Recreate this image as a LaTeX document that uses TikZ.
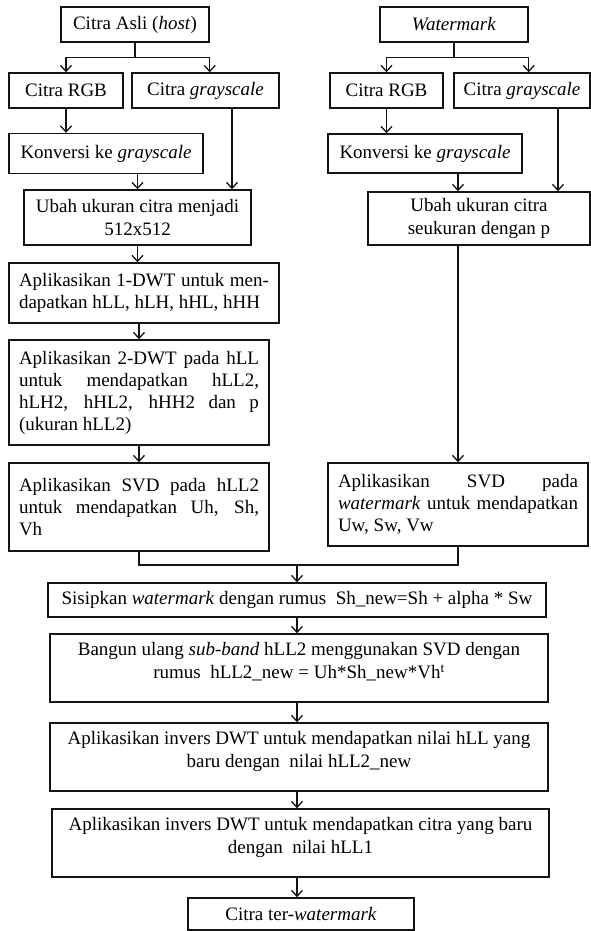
\documentclass[tikz,border=0pt]{standalone}
\usepackage{fontspec}
\setmainfont{Liberation Serif}
\usepackage{tikz}
\usetikzlibrary{arrows.meta}
\definecolor{WMLine}{HTML}{141414}

\begin{document}
\begin{tikzpicture}[x=1pt,y=-1pt,
  box/.style={draw=WMLine,line width=1.4pt,inner sep=0pt,align=center,minimum height=35pt,font=\fontsize{19}{23}\selectfont},
  jbox/.style={draw=WMLine,line width=1.4pt,inner xsep=10pt,inner ysep=0pt,align=justify,font=\fontsize{19}{22}\selectfont},
  arr/.style={WMLine,line width=1.3pt,-{Straight Barb[length=6pt,width=11pt]}},
  link/.style={WMLine,line width=1.3pt}]
\path[use as bounding box] (0,0) rectangle (591,931);
\node[box,minimum width=148pt] (asli) at (135,24.5) {Citra Asli (\textit{host})};
\node[box,minimum width=114pt] (rgbA) at (66,90.5) {Citra RGB};
\node[box,minimum width=147pt] (grayA) at (205.5,90.5) {Citra \textit{grayscale}};
\node[box,minimum width=194pt,minimum height=40pt] (konvA) at (106,153.5) {Konversi ke \textit{grayscale}};
\node[box,minimum width=227pt,minimum height=55pt] (ubahA) at (137.5,217.5) {Ubah ukuran citra menjadi\\512x512};
\node[jbox,text width=250pt,minimum height=60pt] (dwtA) at (144,293) {Aplikasikan 1-DWT untuk men-\linebreak dapatkan hLL, hLH, hHL, hHH};
\node[jbox,text width=240pt,minimum height=105pt] (dwtB) at (139,392.5) {Aplikasikan 2-DWT pada hLL\linebreak untuk mendapatkan hLL2,\linebreak hLH2, hHL2, hHH2 dan p\linebreak (ukuran hLL2)};
\node[jbox,text width=240pt,minimum height=88pt] (svdA) at (139,507) {Aplikasikan SVD pada hLL2\linebreak untuk mendapatkan Uh, Sh,\linebreak Vh};
\node[box,minimum width=148pt] (wm) at (454,24.5) {\textit{Watermark}};
\node[box,minimum width=113pt] (rgbB) at (386.5,90.5) {Citra RGB};
\node[box,minimum width=136pt] (grayB) at (522,90.5) {Citra \textit{grayscale}};
\node[box,minimum width=194pt,minimum height=39pt] (konvB) at (425,153.5) {Konversi ke \textit{grayscale}};
\node[box,minimum width=222pt,minimum height=53pt] (ubahB) at (479,218.5) {Ubah ukuran citra\\seukuran dengan p};
\node[jbox,text width=240pt,minimum height=83pt] (svdB) at (458,504.5) {Aplikasikan SVD pada\linebreak \textit{watermark} untuk mendapatkan\linebreak Uw, Sw, Vw};
\node[box,minimum width=498pt,minimum height=34pt] (sisip) at (297,600) {Sisipkan \textit{watermark} dengan rumus\ \ Sh\_new=Sh + alpha * Sw};
\node[box,minimum width=498pt,minimum height=68pt] (bangun) at (299,668) {Bangun ulang \textit{sub-band} hLL2 menggunakan SVD dengan\\rumus\ \ hLL2\_new = Uh*Sh\_new*Vh\textsuperscript{t}\\[-8pt]\mbox{}};
\node[box,minimum width=498pt,minimum height=68pt] (invA) at (299,757) {Aplikasikan invers DWT untuk mendapatkan nilai hLL yang\\baru dengan\ \ nilai hLL2\_new\\[-8pt]\mbox{}};
\node[box,minimum width=497pt,minimum height=68pt] (invB) at (300.5,843) {Aplikasikan invers DWT untuk mendapatkan citra yang baru\\dengan\ \ nilai hLL1\\[-8pt]\mbox{}};
\node[box,minimum width=226pt,minimum height=32pt] (hasil) at (301,914) {Citra ter-\textit{watermark}};
\coordinate (forkA) at ([yshift=-15pt]asli.south);
\coordinate (forkB) at ([yshift=-15pt]wm.south);
\coordinate (merge) at (297,565);
\draw[link] (asli) -- (forkA);
\draw[arr] (forkA) -| (rgbA);
\draw[arr] (forkA) -| (asli.east |- grayA.north);
\draw[link] (wm) -- (forkB);
\draw[arr] (forkB) -| (rgbB);
\draw[arr] (forkB) -| (wm.east |- grayB.north);
\draw[arr] (rgbA) -- (konvA.north -| rgbA);
\draw[arr] (rgbB) -- (konvB.north -| rgbB);
\draw[arr] (konvA.south -| ubahA) -- (ubahA);
\draw[arr] ([xshift=26.5pt]grayA.south) -- ([xshift=26.5pt]grayA.south |- ubahA.north);
\draw[arr] (svdB |- konvB.south) -- (svdB |- ubahB.north);
\draw[arr] ([xshift=36pt]grayB.south) -- ([xshift=36pt]grayB.south |- ubahB.north);
\draw[arr] (ubahA.south) -- (ubahA.south |- dwtA.north);
\draw[arr] (dwtA.south -| dwtB) -- (dwtB);
\draw[arr] (dwtB) -- (svdA);
\draw[arr] (svdB |- ubahB.south) -- (svdB);
\draw[link] (svdA.south) |- (merge) -| (svdB.south);
\draw[arr] (merge) -- (sisip);
\draw[arr] (sisip.south) -- (sisip.south |- bangun.north);
\draw[arr] (sisip.south |- bangun.south) -- (sisip.south |- invA.north);
\draw[arr] (sisip.south |- invA.south) -- (sisip.south |- invB.north);
\draw[arr] (sisip.south |- invB.south) -- (sisip.south |- hasil.north);
\end{tikzpicture}
\end{document}
